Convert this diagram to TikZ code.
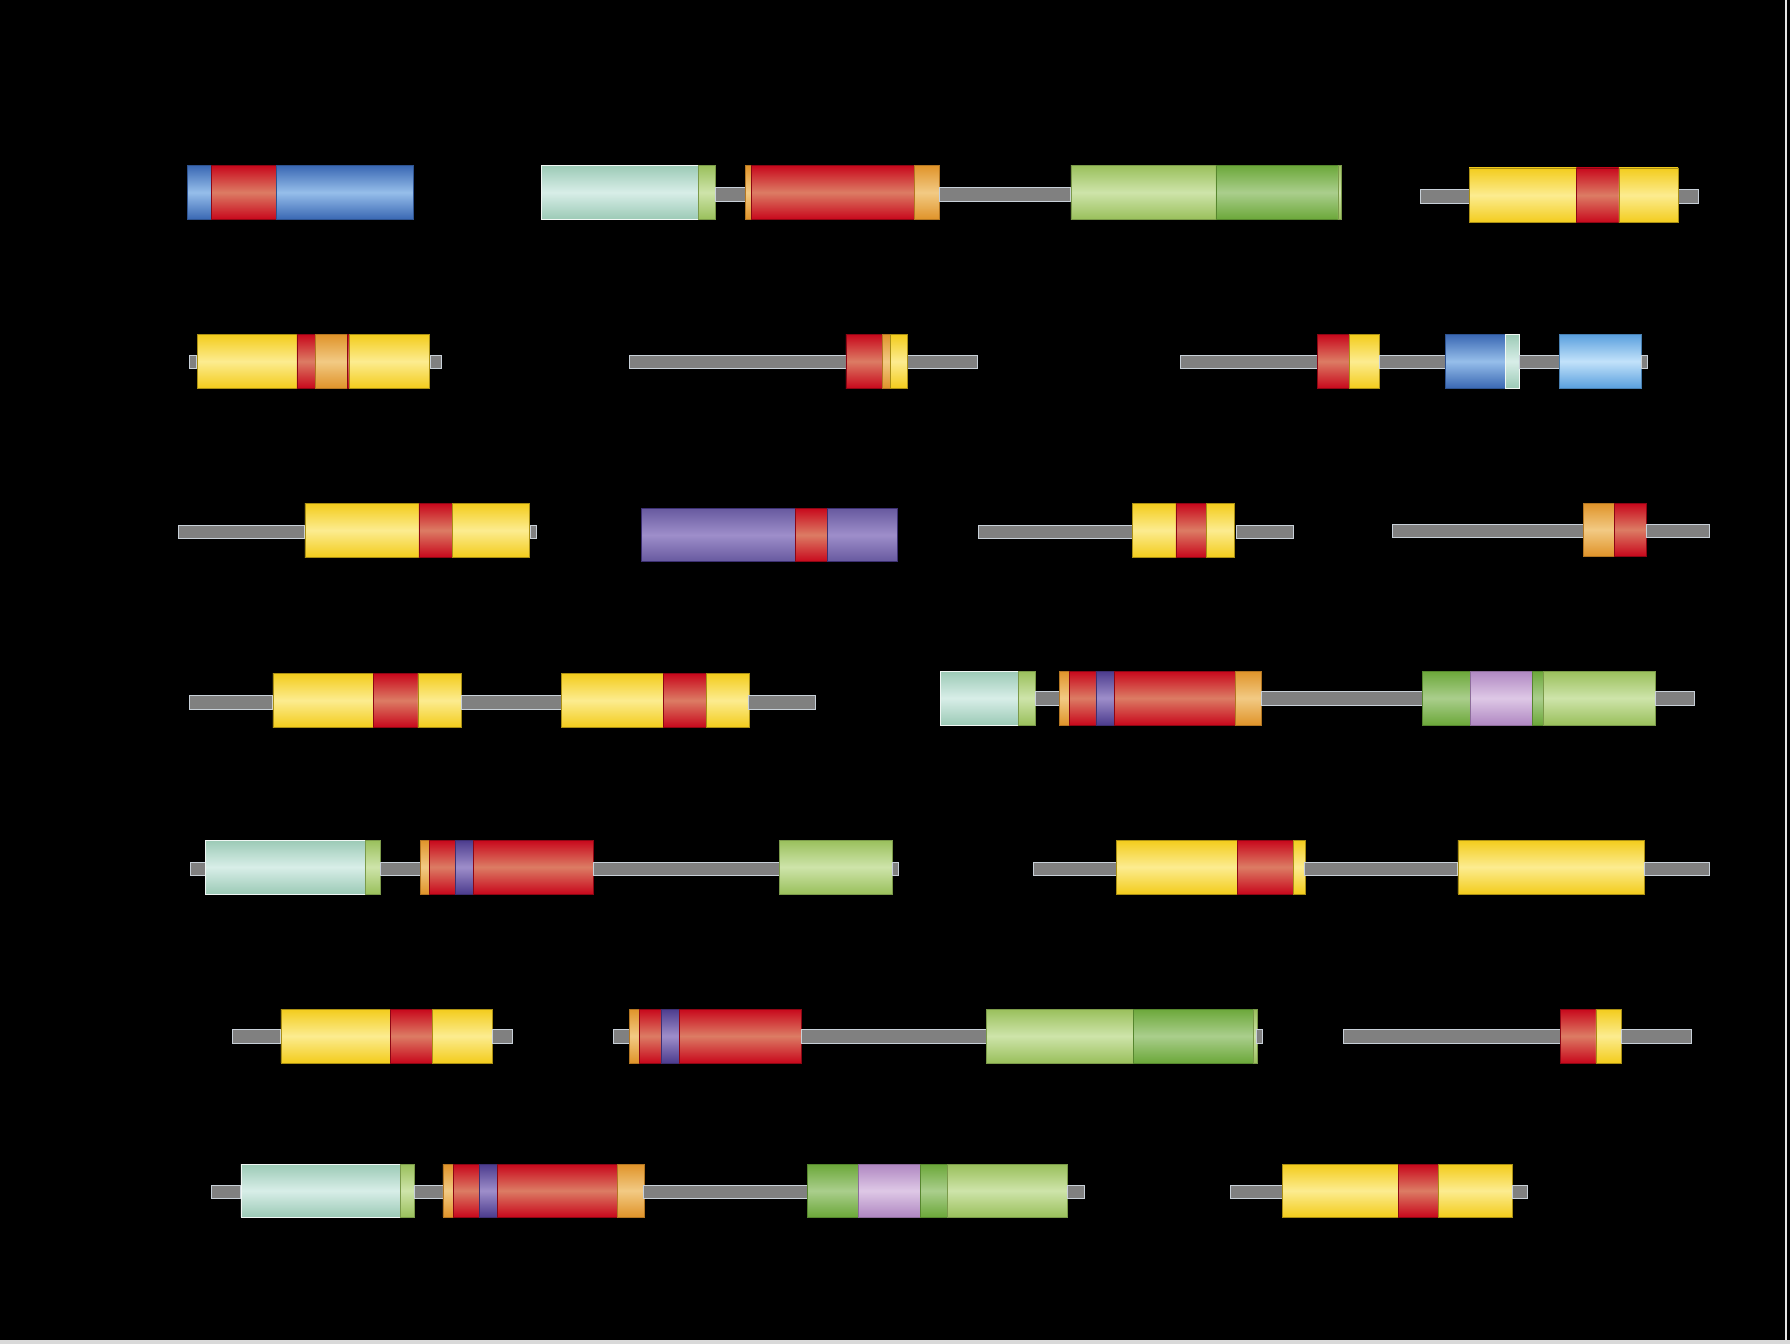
\documentclass[tikz,border=0pt]{standalone}
\usetikzlibrary{shadings}
\definecolor{yelE}{HTML}{F3CC1C}\definecolor{yelM}{HTML}{FCEC90}
\definecolor{redE}{HTML}{C8081C}\definecolor{redM}{HTML}{DC7C64}
\definecolor{bluE}{HTML}{3A68B4}\definecolor{bluM}{HTML}{96BEEA}
\definecolor{lbuE}{HTML}{5AA0DE}\definecolor{lbuM}{HTML}{C2E2FA}
\definecolor{mntE}{HTML}{9CCAB6}\definecolor{mntM}{HTML}{D8EEE8}
\definecolor{lgrE}{HTML}{9AC05C}\definecolor{lgrM}{HTML}{CEE4AA}
\definecolor{grnE}{HTML}{6CA83A}\definecolor{grnM}{HTML}{AACE8C}
\definecolor{orgE}{HTML}{E0942A}\definecolor{orgM}{HTML}{F2CA84}
\definecolor{purE}{HTML}{4C3C8E}\definecolor{purM}{HTML}{9E8ECA}
\definecolor{lilE}{HTML}{B088C2}\definecolor{lilM}{HTML}{DEC8E6}
\definecolor{lnkF}{HTML}{808080}\definecolor{lnkD}{HTML}{C8D0D8}
\tikzset{
  dom/.style={line width=0.5pt},
  yel/.style={dom,draw=yelE!70!black,top color=yelE,bottom color=yelE,middle color=yelM},
  red/.style={dom,draw=redE!70!black,top color=redE,bottom color=redE,middle color=redM},
  blu/.style={dom,draw=bluE!80!black,top color=bluE,bottom color=bluE,middle color=bluM},
  lbu/.style={dom,draw=lbuE!80!black,top color=lbuE,bottom color=lbuE,middle color=lbuM},
  mnt/.style={dom,draw=white!85!mntE,top color=mntE,bottom color=mntE,middle color=mntM},
  lgr/.style={dom,draw=lgrE!80!black,top color=lgrE,bottom color=lgrE,middle color=lgrM},
  grn/.style={dom,draw=grnE!80!black,top color=grnE,bottom color=grnE,middle color=grnM},
  org/.style={dom,draw=orgE!80!black,top color=orgE,bottom color=orgE,middle color=orgM},
  pur/.style={dom,draw=purE!80!black,top color=purE,bottom color=purE,middle color=purM},
  pul/.style={dom,draw=purE!80!black,top color=purE!85!white,bottom color=purE!85!white,middle color=purM},
  lil/.style={dom,draw=lilE!80!black,top color=lilE,bottom color=lilE,middle color=lilM},
  lnk/.style={fill=lnkF,draw=lnkD,line width=0.7pt},
}
\newcommand\dmn[3]{\shade[#1] (#2,\yt) rectangle (#3,\yb);}
\newcommand\lnk[2]{\draw[lnk] (#1,\yc-6) rectangle (#2,\yc+6);}
\newcommand\rowset[3]{\def\yt{#1}\def\yb{#2}\def\yc{#3}}
\begin{document}
\begin{tikzpicture}[x=1pt,y=-1pt]
\useasboundingbox (0,0) rectangle (1568,1177);
\fill[black] (0,0) rectangle (1568,1177);
\fill[white!85!black] (0,1174) rectangle (1568,1177);
\fill[white!90!black] (1563.5,0) rectangle (1565.5,1174);
% ---------- Row 1
\rowset{145}{192}{170}
\dmn{blu}{164}{185}\dmn{red}{185}{242}\dmn{blu}{242}{362}
\dmn{mnt}{474}{612}\dmn{lgr}{612}{627}\lnk{627}{653}
\dmn{org}{653}{658}\dmn{red}{658}{801}\dmn{org}{801}{823}\lnk{823}{938}
\dmn{lgr}{938}{1065}\dmn{grn}{1065}{1172}\dmn{lgr}{1172}{1175}
\rowset{147}{195}{172}
\lnk{1244}{1287}\lnk{1470}{1488}
\dmn{yel}{1287}{1381}\dmn{red}{1381}{1418}\dmn{yel}{1418}{1470}
% ---------- Row 2
\rowset{293}{340}{317}
\lnk{166}{172}\lnk{377}{387}
\dmn{yel}{173}{260}\dmn{red}{260}{276}\dmn{org}{276}{304}\dmn{red}{304}{306}\dmn{yel}{306}{376}
\lnk{551}{741}\lnk{795}{856}
\dmn{red}{741}{773}\dmn{org}{773}{780}\dmn{yel}{780}{795}
\lnk{1034}{1154}\dmn{red}{1154}{1182}\dmn{yel}{1182}{1208}\lnk{1208}{1266}
\dmn{blu}{1266}{1319}\dmn{mnt}{1319}{1331}\lnk{1331}{1366}\dmn{lbu}{1366}{1438}\lnk{1438}{1443}
% ---------- Row 3
\rowset{441}{488}{466}
\lnk{156}{267}\dmn{yel}{267}{367}\dmn{red}{367}{396}\dmn{yel}{396}{464}\lnk{465}{470}
\lnk{857}{992}\dmn{yel}{992}{1030}\dmn{red}{1030}{1057}\dmn{yel}{1057}{1081}\lnk{1083}{1133}
\rowset{441}{487}{465}
\lnk{1220}{1387}\dmn{org}{1387}{1414}\dmn{red}{1414}{1442}\lnk{1442}{1497}
\rowset{445}{492}{468}
\dmn{pul}{562}{697}\dmn{red}{697}{725}\dmn{pul}{725}{786}
% ---------- Row 4
\rowset{590}{637}{615}
\lnk{166}{239}\dmn{yel}{239}{327}\dmn{red}{327}{366}\dmn{yel}{366}{404}\lnk{404}{492}
\dmn{yel}{492}{581}\dmn{red}{581}{619}\dmn{yel}{619}{656}\lnk{656}{714}
\rowset{588}{635}{612}
\dmn{mnt}{824}{892}\dmn{lgr}{892}{907}\lnk{907}{928}
\dmn{org}{928}{937}\dmn{red}{937}{960}\dmn{pur}{960}{976}\dmn{red}{976}{1082}\dmn{org}{1082}{1105}
\lnk{1105}{1246}\dmn{grn}{1246}{1288}\dmn{lil}{1288}{1342}\dmn{grn}{1342}{1352}\dmn{lgr}{1352}{1450}\lnk{1450}{1484}
% ---------- Row 5
\rowset{736}{783}{761}
\lnk{167}{180}\dmn{mnt}{180}{320}\dmn{lgr}{320}{333}\lnk{333}{368}
\dmn{org}{368}{376}\dmn{red}{376}{399}\dmn{pur}{399}{415}\dmn{red}{415}{520}
\lnk{520}{683}\dmn{lgr}{683}{782}\lnk{782}{787}
\lnk{905}{978}\dmn{yel}{978}{1084}\dmn{red}{1084}{1133}\dmn{yel}{1133}{1143}
\lnk{1143}{1277}\dmn{yel}{1277}{1440}\lnk{1440}{1497}
% ---------- Row 6
\rowset{884}{931}{908}
\lnk{204}{246}\dmn{yel}{246}{342}\dmn{red}{342}{379}\dmn{yel}{379}{431}\lnk{431}{449}
\lnk{537}{551}\dmn{org}{551}{560}\dmn{red}{560}{579}\dmn{pur}{579}{595}\dmn{red}{595}{702}
\lnk{702}{864}\dmn{lgr}{864}{993}\dmn{grn}{993}{1098}\dmn{lgr}{1098}{1101}\lnk{1101}{1106}
\lnk{1177}{1367}\dmn{red}{1367}{1398}\dmn{yel}{1398}{1420}\lnk{1420}{1482}
% ---------- Row 7
\rowset{1020}{1066}{1044}
\lnk{185}{211}\dmn{mnt}{211}{351}\dmn{lgr}{351}{363}\lnk{363}{388}
\dmn{org}{388}{397}\dmn{red}{397}{420}\dmn{pur}{420}{436}\dmn{red}{436}{541}\dmn{org}{541}{564}
\lnk{564}{707}\dmn{grn}{707}{752}\dmn{lil}{752}{806}\dmn{grn}{806}{830}\dmn{lgr}{830}{935}\lnk{935}{950}
\lnk{1078}{1123}\dmn{yel}{1123}{1225}\dmn{red}{1225}{1260}\dmn{yel}{1260}{1325}\lnk{1325}{1338}
\end{tikzpicture}
\end{document}
